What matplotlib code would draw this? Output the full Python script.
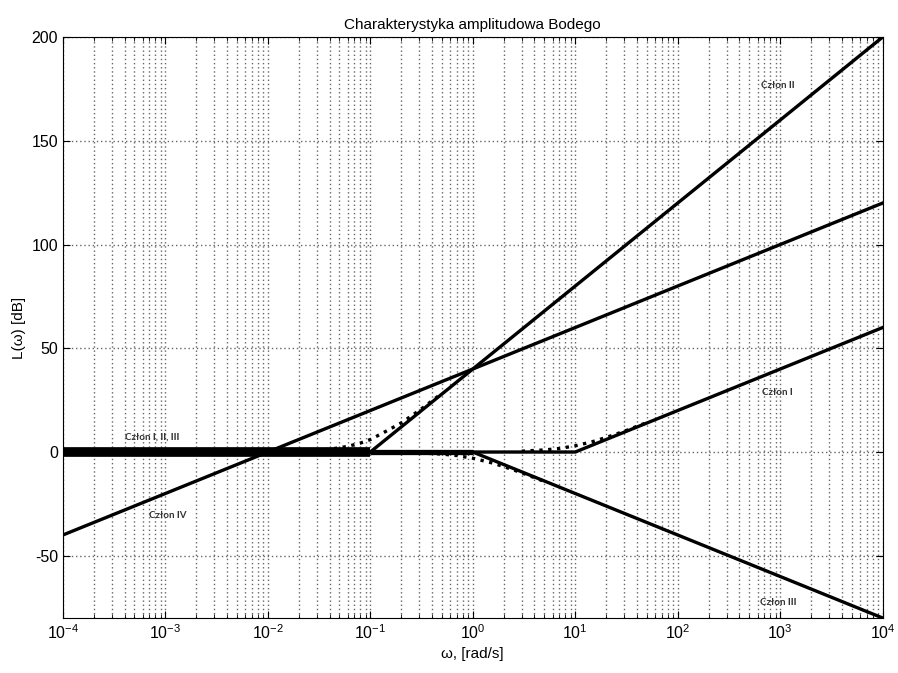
import numpy as np
import matplotlib.pyplot as plt
from matplotlib.ticker import LogLocator, NullFormatter, FixedLocator

plt.rcParams['font.family'] = ['Liberation Sans', 'DejaVu Sans']
plt.rcParams['axes.unicode_minus'] = False

# asymptotic characteristics (corner points)
cz1_w = [1e-4, 10, 1e4]
cz1_L = [0, 0, 60]
cz2_w = [1e-4, 0.1, 1e4]
cz2_L = [0, 0, 200]
cz3_w = [1e-4, 1, 1e4]
cz3_L = [0, 0, -80]
cz4_w = [1e-4, 1e4]
cz4_L = [-40, 120]

# exact curves near the corners (dotted)
ex1_w = [3, 5, 7, 10, 15, 20, 30, 50]
ex1_L = [0.4, 1.0, 1.7, 3.0, 5.1, 7.0, 10.0, 14.2]
ex2_w = [0.02, 0.04, 0.06, 0.08, 0.1, 0.15, 0.2, 0.3, 0.5]
ex2_L = [0.3, 1.3, 2.7, 4.3, 6.0, 10.6, 14.0, 20.0, 28.3]
ex3_w = [0.3, 0.5, 0.7, 1, 1.5, 2, 3, 5]
ex3_L = [-0.4, -1.0, -1.7, -3.0, -5.1, -7.0, -10.0, -14.2]

labels = ['Człon I, II, III', 'Człon IV', 'Człon II', 'Człon I', 'Człon III']
label_w = [7.4e-4, 1.06e-3, 946, 946, 946]
label_L = [7.3, -30.7, 176.4, 28.5, -72.6]

fig = plt.figure(figsize=(8.98, 6.73), dpi=100)
ax = fig.add_axes([0.070, 0.0817, 0.913, 0.8633])

ax.plot([1e-4, 0.1], [0, 0], color='black', lw=7, solid_capstyle='butt')
ax.plot([0.1, 1], [0, 0], color='black', lw=3.8, solid_capstyle='butt')
for w, L in [(cz1_w, cz1_L), (cz2_w, cz2_L), (cz3_w, cz3_L), (cz4_w, cz4_L)]:
    ax.plot(w, L, color='black', lw=2.4)
for w, L in [(ex1_w, ex1_L), (ex2_w, ex2_L), (ex3_w, ex3_L)]:
    ax.plot(w, L, color='black', lw=2.4, ls=':')

for t, x, y in zip(labels, label_w, label_L):
    ax.text(x, y, t, fontsize=7, fontweight='bold', color='#333333',
            ha='center', va='center', family=['Lato', 'DejaVu Sans'])

ax.set_xscale('log')
ax.set_xlim(1e-4, 1e4)
ax.set_ylim(-80, 200)
ax.set_yticks([-50, 0, 50, 100, 150, 200])
ax.xaxis.set_major_locator(FixedLocator([10.0**k for k in range(-4, 5)]))
ax.xaxis.set_minor_locator(LogLocator(base=10, subs=np.arange(2, 10), numticks=100))
ax.xaxis.set_minor_formatter(NullFormatter())

ax.grid(True, which='major', axis='both', color='#666666', ls=(0, (1, 2)), lw=1)
ax.grid(True, which='minor', axis='x', color='#666666', ls=(0, (1, 2)), lw=1)
ax.tick_params(which='both', direction='in', top=True, right=True, labelsize=11.5)
ax.tick_params(which='major', length=5)
ax.tick_params(which='minor', length=3)

ax.set_title('Charakterystyka amplitudowa Bodego', fontsize=11)
ax.set_xlabel('ω, [rad/s]', fontsize=11)
ax.set_ylabel('L(ω) [dB]', fontsize=11)

fig.savefig('out.png', dpi=100)
